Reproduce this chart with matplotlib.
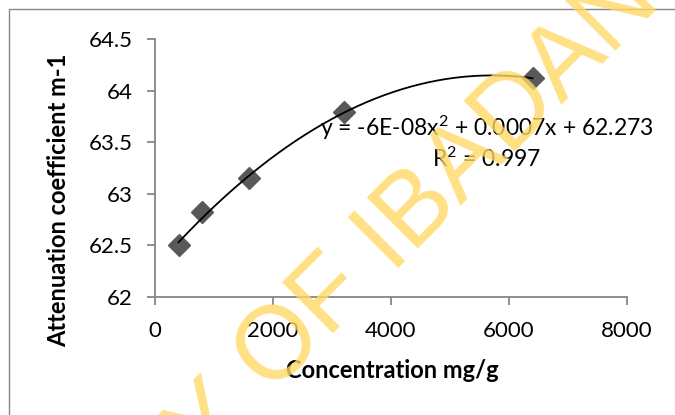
import matplotlib

matplotlib.use("Agg")
import matplotlib.pyplot as plt
import numpy as np
from matplotlib.patches import Rectangle

# concentration (mg/g) vs attenuation coefficient (m-1)
conc = [400, 800, 1600, 3200, 6400]
atten = [62.50, 62.82, 63.15, 63.79, 64.12]
x_ticks = [0, 2000, 4000, 6000, 8000]
y_ticks = [62, 62.5, 63, 63.5, 64, 64.5]
y_tick_labels = ["62", "62.5", "63", "63.5", "64", "64.5"]
eq_text = "y = -6E-08x$^2$ + 0.0007x + 62.273\nR$^2$ = 0.997"

plt.rcParams["font.family"] = ["Lato", "DejaVu Sans"]
plt.rcParams["mathtext.fontset"] = "custom"
plt.rcParams["mathtext.rm"] = "Lato"
plt.rcParams["mathtext.it"] = "Lato"
plt.rcParams["mathtext.default"] = "rm"
AXIS_GREY = "#868686"

fig = plt.figure(figsize=(6.75, 4.15), dpi=100)
fig.patches.append(Rectangle((9 / 675, -0.1), 1.2, 1 - 9 / 415 + 0.1, transform=fig.transFigure,
                             fill=False, edgecolor=AXIS_GREY, lw=1.0))
ax = fig.add_axes([155 / 675, 118 / 415, 472 / 675, 258 / 415])

ax.plot(conc, atten, "D", ms=11, color="#595959", zorder=3)
coef = np.polyfit(conc, atten, 2)
xx = np.linspace(conc[0], conc[-1], 200)
ax.plot(xx, np.polyval(coef, xx), "-", color="black", lw=1.3, zorder=4)

ax.set_xlim(0, 8000)
ax.set_ylim(62, 64.5)
ax.set_xticks(x_ticks)
ax.set_yticks(y_ticks)
ax.set_yticklabels(y_tick_labels)
for s in ("top", "right"):
    ax.spines[s].set_visible(False)
for s in ("left", "bottom"):
    ax.spines[s].set_color(AXIS_GREY)
    ax.spines[s].set_linewidth(1.3)
ax.tick_params(axis="both", colors=AXIS_GREY, labelcolor="black", labelsize=16,
               length=6, width=1.3, direction="out")
ax.tick_params(axis="y", pad=10)
ax.tick_params(axis="x", pad=11)

ax.text(5619, 63.5, eq_text, ha="center", va="center", multialignment="center",
        fontsize=16.5, zorder=5)

fig.text(59 / 675, 1 - 200 / 415, "Attenuation coefficient m-1", rotation=90,
         ha="center", va="center", fontsize=17, fontweight="bold")
fig.text(392 / 675, 1 - 371 / 415, "Concentration mg/g", ha="center", va="center",
         fontsize=17, fontweight="bold")

# library watermark over the chart
wm_kw = dict(rotation=45, rotation_mode="anchor", va="baseline", fontsize=74,
             color="#FFD966", alpha=0.8, family="Liberation Sans", zorder=10)
fig.text(271 / 675, 20 / 415, "OF IBADAN LIBRARY", ha="left", **wm_kw)
fig.text(251 / 675, 0 / 415, "UNIVERSITY", ha="right", **wm_kw)

fig.savefig("out.png", dpi=100)
